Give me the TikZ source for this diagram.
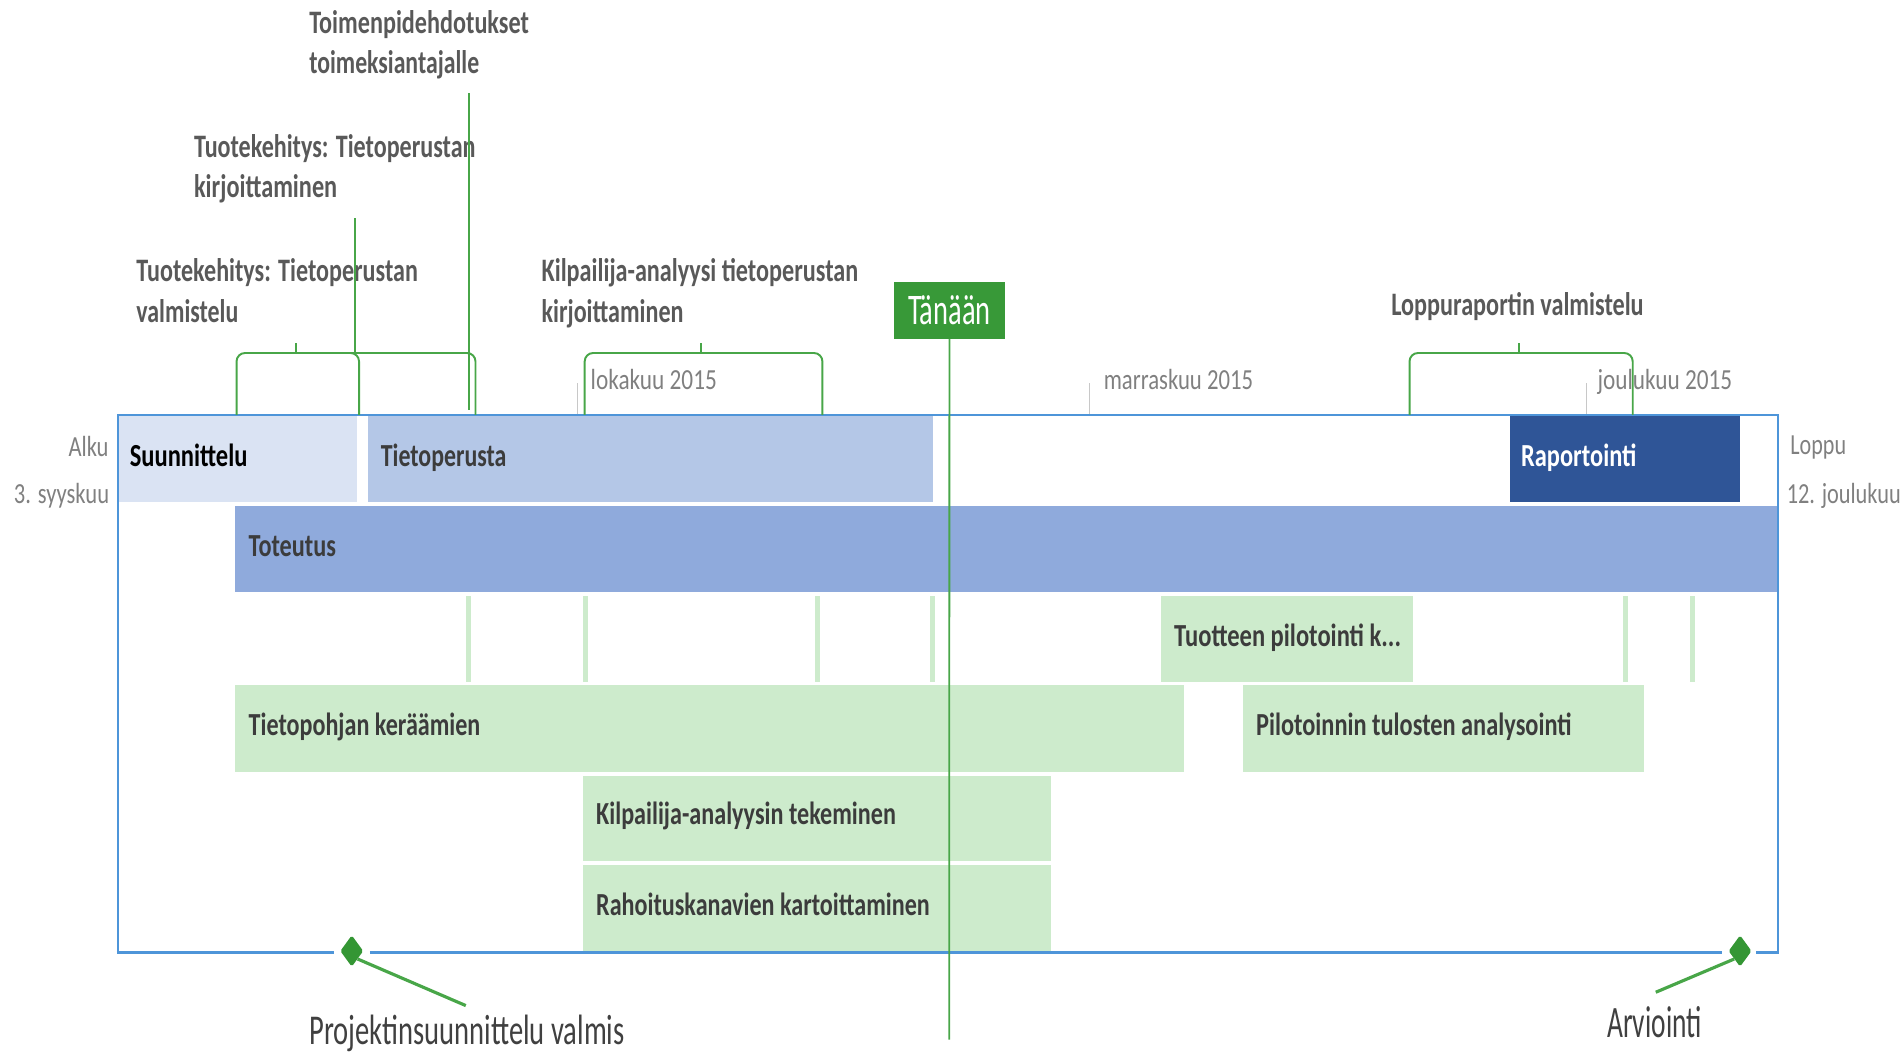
\documentclass[tikz,border=0pt]{standalone}
\usepackage{fontspec}
\setmainfont{Carlito}
\usetikzlibrary{shapes.geometric}
\definecolor{frameblue}{RGB}{78,149,217}
\definecolor{suunfill}{RGB}{218,227,243}
\definecolor{tietofill}{RGB}{180,199,231}
\definecolor{totfill}{RGB}{143,170,220}
\definecolor{raportfill}{RGB}{47,85,151}
\definecolor{taskgreen}{RGB}{205,235,204}
\definecolor{todaygreen}{RGB}{56,153,56}
\definecolor{linegreen}{RGB}{72,166,72}
\definecolor{msgreen}{RGB}{52,150,52}
\definecolor{calloutgray}{RGB}{89,89,89}
\definecolor{bartext}{RGB}{60,60,60}
\definecolor{monthgray}{RGB}{128,128,128}
\definecolor{tickgray}{RGB}{200,200,200}
\definecolor{bottomtext}{RGB}{64,64,64}
\newsavebox\fitbox
\newcommand{\fitw}[2]{\begingroup\sbox\fitbox{#2}\pgfmathsetmacro\fitscale{#1/\the\wd\fitbox}\scalebox{\fitscale}[1]{\usebox\fitbox}\endgroup}
\tikzset{
  txt/.style={inner sep=0pt, outer sep=0pt, anchor=base west},
  callout/.style={txt, text=calloutgray, font=\fontsize{27}{32}\selectfont\bfseries},
  barlbl/.style={txt, text=bartext, font=\fontsize{26.5}{31}\selectfont\bfseries},
  month/.style={txt, text=monthgray, font=\fontsize{24}{29}\selectfont},
  sidelbl/.style={txt, text=monthgray, font=\fontsize{24}{29}\selectfont},
  mslbl/.style={txt, text=bottomtext, font=\fontsize{35}{41}\selectfont},
  brk/.style={draw=linegreen, line width=1.6pt, rounded corners=7pt},
  leader/.style={draw=linegreen, line width=1.6pt},
  mtick/.style={draw=tickgray, line width=1.2pt},
  framebox/.style={draw=frameblue, line width=1.5pt},
  framebottom/.style={draw=frameblue, line width=2.6pt},
  thinbar/.style={fill=taskgreen},
  msdiamond/.style={diamond, fill=msgreen, inner sep=0pt, minimum width=19pt, minimum height=26pt, rounded corners=1.5pt},
  msleader/.style={draw=linegreen, line width=2.6pt},
}
\begin{document}
\begin{tikzpicture}[x=1pt,y=-1pt]
\useasboundingbox (0,0) rectangle (1568,869);

% bars
\fill[suunfill] (97,343) rectangle (294,414);
\fill[tietofill] (303.5,343) rectangle (769,414);
\fill[raportfill] (1244.5,343) rectangle (1434.5,414);
\fill[totfill] (194,417) rectangle (1466,488);
\foreach \xx in {386.5,483,674,769,1340,1395}
  \fill[thinbar] (\xx-2,491) rectangle (\xx+2,562);
\fill[taskgreen] (957,491) rectangle (1165,562);
\fill[taskgreen] (194,565) rectangle (976,636.5);
\fill[taskgreen] (1025,565) rectangle (1355.5,636.5);
\fill[taskgreen] (481,639.5) rectangle (866.5,710);
\fill[taskgreen] (481,713) rectangle (866.5,784);

% bar labels
\node[barlbl, text=black] (lsuun) at (107,384.6) {\fitw{97}{Suunnittelu}};
\node[barlbl] (ltieto) at (314,384.6) {\fitw{103.5}{Tietoperusta}};
\node[barlbl, text=white] (lraport) at (1254,384.6) {\fitw{95}{Raportointi}};
\node[barlbl] (ltot) at (205,459) {\fitw{72}{Toteutus}};
\node[barlbl] (lpilot) at (968,533) {\fitw{187}{Tuotteen pilotointi k...}};
\node[barlbl] (lkeraa) at (205,606) {\fitw{191}{Tietopohjan keräämien}};
\node[barlbl] (ltulos) at (1035.5,606) {\fitw{260}{Pilotoinnin tulosten analysointi}};
\node[barlbl] (lkilp) at (491.5,680) {\fitw{247}{Kilpailija-analyysin tekeminen}};
\node[barlbl] (lrahoit) at (491.5,754.5) {\fitw{275}{Rahoituskanavien kartoittaminen}};

% frame
\draw[framebox] (97,785) -- (97,342) -- (1466,342) -- (1466,785);
\draw[framebottom] (96.3,785) -- (275,785);
\draw[framebottom] (305,785) -- (1420,785);
\draw[framebottom] (1448,785) -- (1466.7,785);

% month ticks and labels
\draw[mtick] (476,316) -- (476,341);
\draw[mtick] (898,316) -- (898,341);
\draw[mtick] (1308,316) -- (1308,341);
\node[month] (mlok) at (487,321) {\fitw{104}{lokakuu 2015}};
\node[month] (mmar) at (910,321) {\fitw{123}{marraskuu 2015}};
\node[month] (mjou) at (1317,321) {\fitw{111}{joulukuu 2015}};

% side labels
\node[sidelbl, anchor=base east] (alku) at (89.5,376) {\fitw{33}{Alku}};
\node[sidelbl, anchor=base east] (alkupvm) at (90,415) {\fitw{78.5}{3. syyskuu}};
\node[sidelbl] (loppu) at (1476,375) {\fitw{46}{Loppu}};
\node[sidelbl] (loppupvm) at (1473,415) {\fitw{94}{12. joulukuu}};

% callout labels
\node[callout] (c3a) at (255,27.7) {\fitw{181}{Toimenpidehdotukset}};
\node[callout] (c3b) at (255,61) {\fitw{140}{toimeksiantajalle}};
\node[callout] (c2a) at (160,130) {\fitw{232}{Tuotekehitys: Tietoperustan}};
\node[callout] (c2b) at (160,163) {\fitw{118}{kirjoittaminen}};
\node[callout] (c1a) at (112.5,232) {\fitw{232}{Tuotekehitys: Tietoperustan}};
\node[callout] (c1b) at (112.5,266) {\fitw{84}{valmistelu}};
\node[callout] (c4a) at (446.5,232) {\fitw{261}{Kilpailija-analyysi tietoperustan}};
\node[callout] (c4b) at (446.5,266) {\fitw{117}{kirjoittaminen}};
\node[callout] (c5) at (1147,260) {\fitw{208}{Loppuraportin valmistelu}};

% brackets
\draw[brk] (195,342) -- (195,291) -- (296,291) -- (296,342);
\draw[brk] (290,291) -- (392,291) -- (392,342);
\draw[brk] (482,342) -- (482,291) -- (678,291) -- (678,342);
\draw[brk] (1162,342) -- (1162,291) -- (1346,291) -- (1346,342);

% callout leaders
\coordinate (t1top) at (244,283); \coordinate (t1bot) at (244,291.5);
\coordinate (t2top) at (293,180); \coordinate (t2bot) at (293,291);
\coordinate (t3top) at (387,77);  \coordinate (t3bot) at (387,338);
\coordinate (t4top) at (578,283); \coordinate (t4bot) at (578,291.5);
\coordinate (t5top) at (1252,283); \coordinate (t5bot) at (1252,291.5);
\draw[leader] (t1top) -- (t1bot);
\draw[leader] (t2top) -- (t2bot);
\draw[leader] (t3top) -- (t3bot);
\draw[leader] (t4top) -- (t4bot);
\draw[leader] (t5top) -- (t5bot);

% today
\node[fill=todaygreen, draw=none, minimum width=91pt, minimum height=47pt, inner sep=0pt, anchor=north west,
      text=white, font=\fontsize{36}{42}\selectfont] (tanaan) at (737,232) {\fitw{68}{Tänään}};
\coordinate (todayend) at (782.5,857);
\draw[leader, line width=1.5pt] (tanaan.south) -- (todayend);

% milestones
\node[msdiamond] (ms1) at (290,784) {};
\node[msdiamond] (ms2) at (1434.5,784) {};
\coordinate (ms1end) at (384,829);
\coordinate (ms2end) at (1365,818);
\draw[msleader] (ms1.south east) -- (ms1end);
\draw[msleader] (ms2.south west) -- (ms2end);
\node[mslbl] (ms1lbl) at (255,861) {\fitw{260}{Projektinsuunnittelu valmis}};
\node[mslbl, text=bottomtext, font=\fontsize{37}{43}\selectfont] (ms2lbl) at (1325,855) {\fitw{78}{Arviointi}};
\end{tikzpicture}
\end{document}
